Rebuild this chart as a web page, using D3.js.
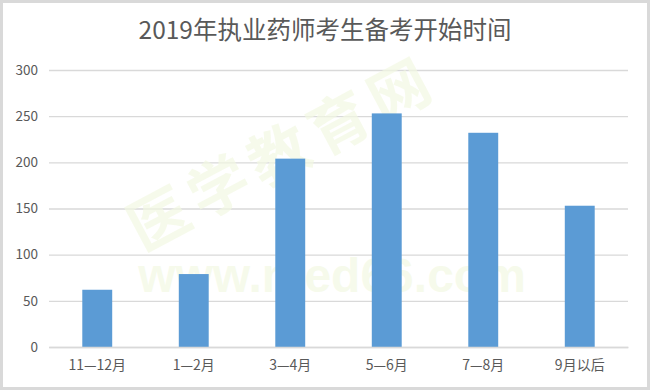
<!DOCTYPE html>
<html>
<head>
<meta charset="utf-8">
<script src="https://cdn.jsdelivr.net/npm/d3@7/dist/d3.min.js"></script>
<style>
  html, body { margin: 0; padding: 0; background: #fff; }
  svg { display: block; }
</style>
</head>
<body>
<svg id="chart" width="650" height="391"></svg>
<script>
// Survey of when 2019 licensed-pharmacist candidates started preparing
const categories = ["11—12月", "1—2月", "3—4月", "5—6月", "7—8月", "9月以后"];
const counts = [62, 79, 204, 253, 232, 153];
const yTicks = [0, 50, 100, 150, 200, 250, 300];
const title = "2019年执业药师考生备考开始时间";

const W = 650, H = 391;
const margin = { left: 49, right: 22, top: 70, bottom: 44 };
const font = "'Microsoft YaHei', 'Noto Sans CJK SC', 'Noto Sans', sans-serif";
const textColor = "#595959";

const svg = d3.select("#chart");

// outer frame
svg.append("rect")
  .attr("x", 1.5).attr("y", 1.5)
  .attr("width", W - 3).attr("height", H - 4)
  .attr("fill", "#fff")
  .attr("stroke", "#d9d9d9")
  .attr("stroke-width", 3);

const x = d3.scaleBand()
  .domain(categories)
  .range([margin.left, W - margin.right])
  .paddingInner(0.69)
  .paddingOuter(0.345);

const y = d3.scaleLinear()
  .domain([0, 300])
  .range([H - margin.bottom, margin.top]);

// horizontal gridlines + y labels
const yAxis = d3.axisLeft(y)
  .tickValues(yTicks)
  .tickSize(-(W - margin.left - margin.right))
  .tickPadding(11);

const gy = svg.append("g")
  .attr("transform", `translate(${margin.left},0)`)
  .call(yAxis);
gy.select(".domain").remove();
gy.selectAll(".tick line")
  .attr("stroke", "#d9d9d9")
  .attr("stroke-width", 1.3);
gy.selectAll(".tick text")
  .attr("fill", textColor)
  .attr("font-family", font)
  .attr("font-size", 13.5);

// soft watermark behind bars
const wm = svg.append("g").attr("pointer-events", "none");
wm.append("text")
  .attr("transform", "translate(285,158) rotate(-28)")
  .attr("text-anchor", "middle")
  .attr("dominant-baseline", "middle")
  .attr("font-family", font)
  .attr("font-weight", "bold")
  .attr("font-size", 60)
  .attr("letter-spacing", 8)
  .attr("fill", "#f2f8e2")
  .attr("fill-opacity", 0.7)
  .text("医学教育网");
wm.append("text")
  .attr("x", 332).attr("y", 292)
  .attr("text-anchor", "middle")
  .attr("font-family", "Arial, 'Liberation Sans', sans-serif")
  .attr("font-weight", "bold")
  .attr("font-size", 48)
  .attr("fill", "#f2f8e2")
  .attr("fill-opacity", 0.7)
  .text("www.med66.com");

// bars
svg.append("g")
  .selectAll("rect")
  .data(counts)
  .join("rect")
  .attr("x", (d, i) => x(categories[i]))
  .attr("y", d => y(d))
  .attr("width", x.bandwidth())
  .attr("height", d => y(0) - y(d))
  .attr("fill", "#5b9bd5");

// category axis
const gx = svg.append("g")
  .attr("transform", `translate(0,${H - margin.bottom})`)
  .call(d3.axisBottom(x).tickSize(0).tickPadding(13));
gx.select(".domain")
  .attr("stroke", "#d9d9d9")
  .attr("stroke-width", 1.3);
gx.selectAll(".tick text")
  .attr("fill", textColor)
  .attr("font-family", font)
  .attr("font-size", 14);

// title
svg.append("text")
  .attr("x", W / 2)
  .attr("y", 39)
  .attr("text-anchor", "middle")
  .attr("font-family", font)
  .attr("font-size", 24.5)
  .attr("fill", textColor)
  .text(title);
</script>
</body>
</html>
